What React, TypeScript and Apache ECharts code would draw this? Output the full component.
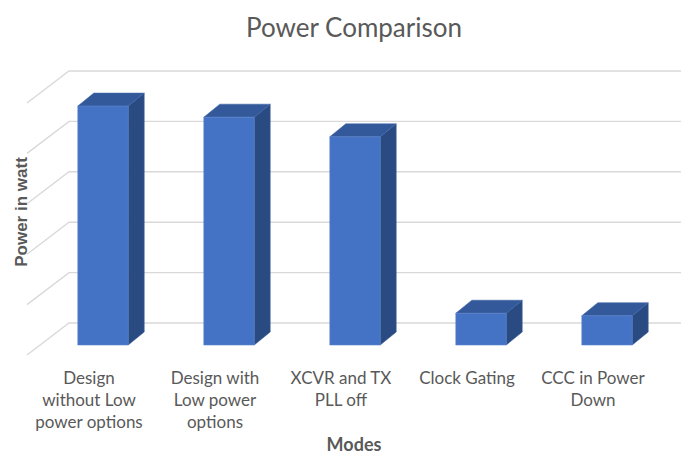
import React, { useEffect, useRef } from "react";
import * as echarts from "echarts";

const categories = [
  "Design\nwithout Low\npower options",
  "Design with\nLow power\noptions",
  "XCVR and TX\nPLL off",
  "Clock Gating",
  "CCC in Power\nDown",
];
const powerValues = [4.74, 4.52, 4.13, 0.63, 0.58];
const gridValues = [0, 1, 2, 3, 4, 5];

const FONT = "Lato, 'Open Sans', sans-serif";
const TEXT = "#595959";

export default function App() {
  const ref = useRef<HTMLDivElement>(null);
  useEffect(() => {
    if (!ref.current) return;
    const chart = echarts.init(ref.current, undefined, { renderer: "svg" });
    const DX = 16;
    const DY = -13;
    chart.setOption({
      animation: false,
      backgroundColor: "#ffffff",
      title: {
        text: "Power Comparison",
        left: 349,
        textAlign: "center",
        top: 9,
        textStyle: { fontFamily: FONT, fontSize: 26, fontWeight: "normal", color: TEXT },
      },
      grid: { left: 40, right: 19, top: 93, bottom: 110 },
      xAxis: {
        type: "category",
        data: categories,
        axisLine: { show: false },
        axisTick: { show: false },
        axisLabel: {
          interval: 0,
          margin: 21,
          fontFamily: FONT,
          fontSize: 17,
          lineHeight: 22,
          color: TEXT,
          align: "center",
          padding: [0, 28, 0, 0],
        },
      },
      yAxis: {
        type: "value",
        min: 0,
        max: 5,
        interval: 1,
        axisLine: { show: false },
        axisTick: { show: false },
        axisLabel: { show: false },
        splitLine: { show: false },
      },
      graphic: [
        {
          type: "text",
          x: 21,
          y: 212,
          rotation: Math.PI / 2,
          style: {
            text: "Power in watt",
            fontFamily: "'Liberation Sans', Arial, sans-serif",
            fontSize: 17,
            fontWeight: "bold",
            fill: TEXT,
            align: "center",
            verticalAlign: "middle",
          },
        },
        {
          type: "text",
          x: 354,
          y: 444,
          style: {
            text: "Modes",
            fontFamily: FONT,
            fontSize: 18,
            fontWeight: "bold",
            fill: TEXT,
            align: "center",
            verticalAlign: "middle",
          },
        },
      ],
      series: [
        {
          type: "custom",
          silent: true,
          clip: false,
          z: 1,
          data: gridValues.map((v) => [0, v]),
          renderItem: (params: any, api: any) => {
            const cs = params.coordSys;
            const y = api.coord([0, api.value(1)])[1];
            const gx = cs.x;
            const gw = cs.width;
            return {
              type: "polyline",
              shape: {
                points: [
                  [gx - 13, y + 10],
                  [gx + 29, y - 22],
                  [gx + gw + 29, y - 22],
                ],
              },
              style: { stroke: "#d9d9d9", lineWidth: 1.4, fill: "none" },
            };
          },
        },
        {
          type: "custom",
          clip: false,
          z: 2,
          data: powerValues.map((v, i) => [i, v]),
          renderItem: (params: any, api: any) => {
            const i = api.value(0);
            const v = api.value(1);
            const base = api.coord([i, 0]);
            const top = api.coord([i, v]);
            const bw = api.size([1, 0])[0] * 0.4;
            const xl = base[0] - bw / 2;
            const xr = base[0] + bw / 2;
            const yt = top[1];
            const yb = base[1];
            return {
              type: "group",
              children: [
                {
                  type: "polygon",
                  shape: {
                    points: [
                      [xr, yt],
                      [xr + DX, yt + DY],
                      [xr + DX, yb + DY],
                      [xr, yb],
                    ],
                  },
                  style: { fill: "#2a4a82", stroke: "#3a5d9a", lineWidth: 0.6 },
                },
                {
                  type: "polygon",
                  shape: {
                    points: [
                      [xl, yt],
                      [xr, yt],
                      [xr + DX, yt + DY],
                      [xl + DX, yt + DY],
                    ],
                  },
                  style: { fill: "#33599a", stroke: "#4068a8", lineWidth: 0.6 },
                },
                {
                  type: "rect",
                  shape: { x: xl, y: yt, width: bw, height: yb - yt },
                  style: { fill: "#4472c4", stroke: "#5a84cc", lineWidth: 0.6 },
                },
              ],
            };
          },
        },
      ],
    });
    return () => chart.dispose();
  }, []);
  return <div ref={ref} style={{ width: 689, height: 455, marginLeft: -8, marginTop: -8 }} />;
}
